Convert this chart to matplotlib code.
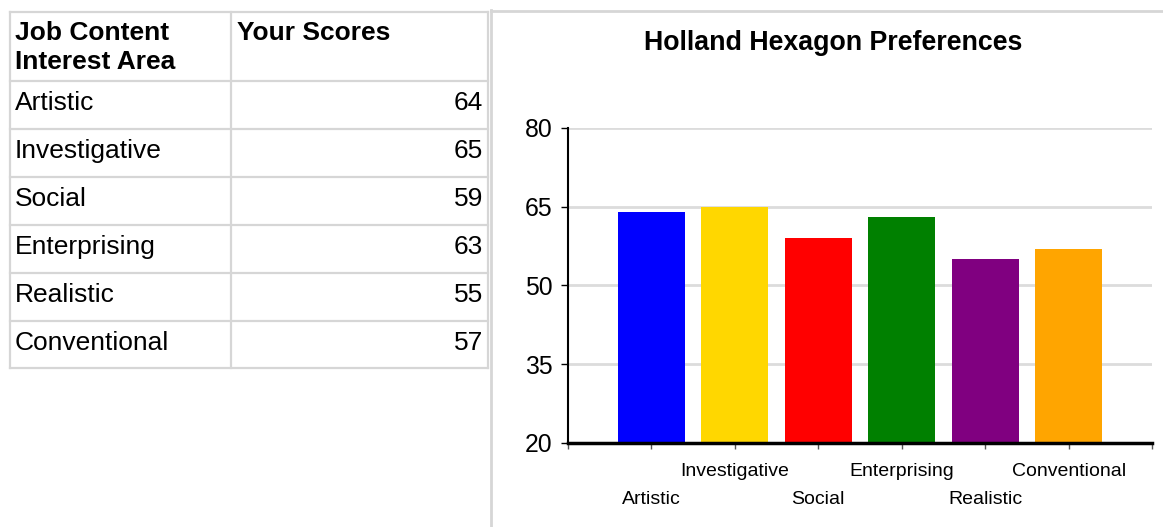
import matplotlib
matplotlib.use("Agg")
import matplotlib.pyplot as plt
from matplotlib.lines import Line2D

plt.rcParams['font.family'] = ['Liberation Sans', 'DejaVu Sans']

categories = ["Artistic", "Investigative", "Social", "Enterprising", "Realistic", "Conventional"]
scores = [64, 65, 59, 63, 55, 57]
bar_colors = ["#0000FF", "#FFD700", "#FF0000", "#008000", "#800080", "#FFA500"]
y_ticks = [20, 35, 50, 65, 80]
header_left = ["Job Content", "Interest Area"]
header_right = "Your Scores"
title = "Holland Hexagon Preferences"

W, H = 1163, 527
fig = plt.figure(figsize=(W / 100, H / 100), dpi=100)

# ---------- Overlay (pixel coordinates) for the table and panel border ----------
bg = fig.add_axes([0, 0, 1, 1])
bg.set_xlim(0, W)
bg.set_ylim(H, 0)
bg.axis("off")

grid_gray = "#d6d6d6"
x_left, x_mid, x_right = 10, 231, 488
row_lines = [12, 81, 129, 177, 225, 273, 321, 368]
for y in row_lines:
    bg.add_line(Line2D([x_left, x_right], [y, y], color=grid_gray, lw=1.6))
for x in (x_left, x_mid, x_right):
    bg.add_line(Line2D([x, x], [row_lines[0], row_lines[-1]], color=grid_gray, lw=1.6))

tfs = 19
bg.text(15, 40, header_left[0], fontsize=tfs, fontweight="bold", va="baseline", ha="left")
bg.text(15, 69, header_left[1], fontsize=tfs, fontweight="bold", va="baseline", ha="left")
bg.text(237, 40, header_right, fontsize=tfs, fontweight="bold", va="baseline", ha="left")
for i, (cat, val) in enumerate(zip(categories, scores)):
    yb = 110 + 48 * i
    bg.text(15, yb, cat, fontsize=tfs, va="baseline", ha="left")
    bg.text(483, yb, str(val), fontsize=tfs, va="baseline", ha="right")

# chart panel border
bg.add_line(Line2D([491, 491], [10, H], color=grid_gray, lw=2))
bg.add_line(Line2D([491, W], [10.5, 10.5], color=grid_gray, lw=2))

# title
fig.text(833 / W, 1 - 43.5 / H, title, fontsize=19.3, fontweight="bold", ha="center", va="center")

# ---------- Bar chart ----------
ax_l, ax_r, ax_t, ax_b = 568, 1152, 128, 443
ax = fig.add_axes([ax_l / W, 1 - ax_b / H, (ax_r - ax_l) / W, (ax_b - ax_t) / H])
ax.patch.set_alpha(0)
positions = list(range(1, len(categories) + 1))
ax.bar(positions, scores, width=0.8, color=bar_colors, zorder=2)
ax.set_xlim(0, len(categories) + 1)
ax.set_ylim(y_ticks[0], y_ticks[-1])
ax.set_yticks(y_ticks)
ax.yaxis.grid(True, color="#dcdcdc", lw=2, zorder=0)
ax.set_axisbelow(True)
ax.tick_params(axis="y", labelsize=17.8, length=5, width=1, pad=6, colors="black")

for s in ("top", "right"):
    ax.spines[s].set_visible(False)
ax.spines["left"].set_linewidth(1.5)
ax.spines["bottom"].set_linewidth(2.5)
ax.spines["bottom"].set_zorder(3)

# alternate tick labels on two rows
lower = positions[0::2]
upper = positions[1::2]
ax.set_xticks(lower)
ax.set_xticklabels(categories[0::2])
ax.set_xticks([0] + upper + [len(categories) + 1], minor=True)
ax.set_xticklabels([""] + categories[1::2] + [""], minor=True)
ax.tick_params(axis="x", which="major", labelsize=14, length=4.5, width=1, pad=30, color="#555555")
ax.tick_params(axis="x", which="minor", labelsize=14, length=4.5, width=1, pad=10, color="#555555")

fig.savefig("out.png", dpi=100)
